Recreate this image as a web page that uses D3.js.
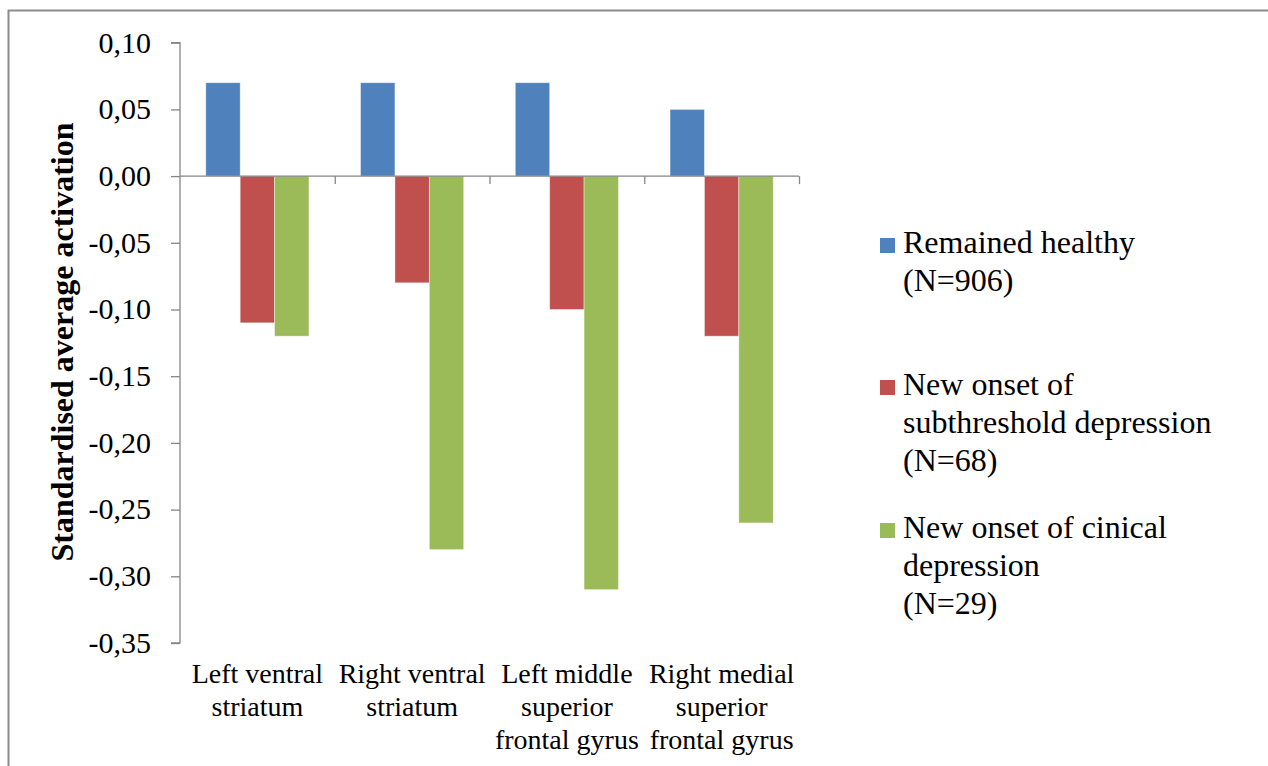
<!DOCTYPE html>
<html>
<head>
<meta charset="utf-8">
<script src="https://cdn.jsdelivr.net/npm/d3@7"></script>
<style>
  html, body { margin: 0; padding: 0; background: #fff; }
  svg { display: block; }
  text { font-family: "Liberation Serif", "Times New Roman", serif; fill: #000; }
</style>
</head>
<body>
<svg id="chart" width="1268" height="766"></svg>
<script>
const categories = [
  ["Left ventral", "striatum"],
  ["Right ventral", "striatum"],
  ["Left middle", "superior", "frontal gyrus"],
  ["Right medial", "superior", "frontal gyrus"]
];
const seriesNames = [
  ["Remained healthy", "(N=906)"],
  ["New onset of", "subthreshold depression", "(N=68)"],
  ["New onset of cinical", "depression", "(N=29)"]
];
const remainedHealthy = [0.07, 0.07, 0.07, 0.05];
const subthreshold = [-0.11, -0.08, -0.10, -0.12];
const clinical = [-0.12, -0.28, -0.31, -0.26];
const seriesColors = ["#4F81BD", "#C0504D", "#9BBB59"];
const yTicks = [0.10, 0.05, 0.00, -0.05, -0.10, -0.15, -0.20, -0.25, -0.30, -0.35];
const yTitle = "Standardised average activation";

const seriesValues = [remainedHealthy, subthreshold, clinical];
const svg = d3.select("#chart");

// outer frame
svg.append("path")
  .attr("d", "M8.5,766 L8.5,10.5 L1268,10.5")
  .attr("fill", "none").attr("stroke", "#8c8c8c").attr("stroke-width", 2);

const pLeft = 180, pRight = 799, pTop = 42.7, pBottom = 643;
const catIdx = categories.map((d, i) => i);
const x0 = d3.scaleBand().domain(catIdx).range([pLeft, pRight]).paddingInner(0).paddingOuter(0);
const x1 = d3.scaleBand().domain([0, 1, 2]).range([0, x0.bandwidth()]).paddingOuter(0.75).paddingInner(0);
const y = d3.scaleLinear().domain([-0.35, 0.10]).range([pBottom, pTop]);

const fmt = v => (v < -1e-9 ? "-" : "") + Math.abs(v).toFixed(2).replace(".", ",");

// bars
const groups = svg.append("g").selectAll("g").data(catIdx).join("g")
  .attr("transform", i => `translate(${x0(i)},0)`);
groups.selectAll("rect")
  .data(i => seriesValues.map((s, k) => ({ k, v: s[i] })))
  .join("rect")
  .attr("x", d => x1(d.k))
  .attr("width", x1.bandwidth())
  .attr("y", d => y(Math.max(0, d.v)))
  .attr("height", d => Math.abs(y(d.v) - y(0)))
  .attr("fill", d => seriesColors[d.k])
  .attr("stroke", "#ffffff").attr("stroke-opacity", 0.5).attr("stroke-width", 0.8);

// y axis
const yAxis = d3.axisLeft(y).tickValues(yTicks).tickFormat(fmt).tickSize(9).tickPadding(20);
const gy = svg.append("g").attr("transform", `translate(${pLeft},0)`).call(yAxis);
gy.select(".domain").attr("stroke", "#868686").attr("stroke-width", 1.3)
  .attr("d", `M-9,${y(0.10)}H0V${y(-0.35)}H-9`);
gy.selectAll(".tick line").attr("stroke", "#868686").attr("stroke-width", 1.3);
gy.selectAll(".tick text")
  .style("font-family", '"Liberation Serif", serif')
  .style("font-size", "30px").attr("fill", "#000").attr("dy", "0.31em");

// x axis at zero
const xAxisScale = d3.scalePoint().domain(d3.range(categories.length + 1)).range([pLeft, pRight]);
const gx = svg.append("g").attr("transform", `translate(0,${y(0)})`)
  .call(d3.axisBottom(xAxisScale).tickSize(8).tickFormat(""));
gx.select(".domain").attr("stroke", "#868686").attr("stroke-width", 1.3)
  .attr("d", `M${pLeft},0H${pRight}`);
gx.selectAll(".tick line").attr("stroke", "#868686").attr("stroke-width", 1.3);
gx.selectAll(".tick").filter(d => d === 0).remove();

// category labels
const catG = svg.append("g");
categories.forEach((lines, i) => {
  const t = catG.append("text")
    .attr("x", x0(i) + x0.bandwidth() / 2)
    .attr("y", 683)
    .attr("text-anchor", "middle")
    .style("font-size", "28px");
  lines.forEach((ln, j) => {
    t.append("tspan").attr("x", x0(i) + x0.bandwidth() / 2)
      .attr("dy", j === 0 ? 0 : 33).text(ln);
  });
});

// y title
svg.append("text")
  .attr("transform", `translate(73,342) rotate(-90)`)
  .attr("text-anchor", "middle")
  .style("font-size", "32px").style("font-weight", "bold")
  .text(yTitle);

// legend
const legendBase = [253, 395, 538];
seriesNames.forEach((lines, k) => {
  svg.append("rect")
    .attr("x", 880).attr("y", legendBase[k] - 15)
    .attr("width", 15).attr("height", 15)
    .attr("fill", seriesColors[k]);
  const t = svg.append("text").attr("x", 903).attr("y", legendBase[k])
    .style("font-size", "32px");
  lines.forEach((ln, j) => {
    t.append("tspan").attr("x", 903).attr("dy", j === 0 ? 0 : 38).text(ln);
  });
});
</script>
</body>
</html>
